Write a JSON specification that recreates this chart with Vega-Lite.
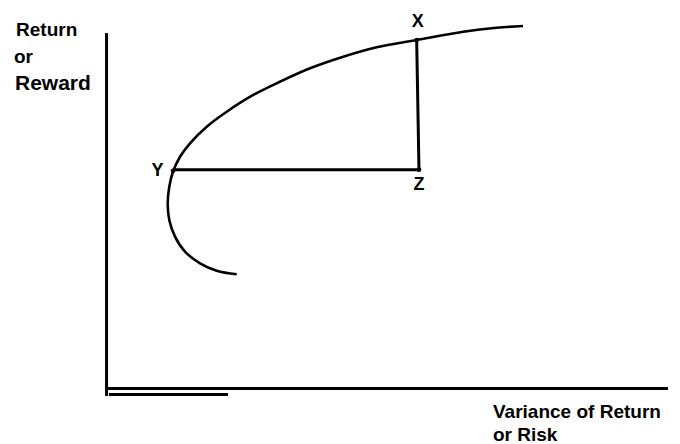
{
  "$schema": "https://vega.github.io/schema/vega-lite/v6.json",
  "width": 680,
  "height": 444,
  "autosize": "none",
  "padding": 0,
  "background": "white",
  "config": {"view": {"stroke": null}},
  "datasets": {
    "frontier": [
      {"order": 1, "risk": 23.26, "ret": 32.03},
      {"order": 2, "risk": 19.70, "ret": 33.04},
      {"order": 3, "risk": 16.73, "ret": 35.13},
      {"order": 4, "risk": 14.06, "ret": 38.39},
      {"order": 5, "risk": 12.28, "ret": 42.62},
      {"order": 6, "risk": 11.26, "ret": 47.32},
      {"order": 7, "risk": 10.98, "ret": 52.03},
      {"order": 8, "risk": 11.26, "ret": 56.70},
      {"order": 9, "risk": 11.92, "ret": 60.93},
      {"order": 10, "risk": 13.17, "ret": 65.15},
      {"order": 11, "risk": 14.95, "ret": 68.93},
      {"order": 12, "risk": 17.92, "ret": 73.61},
      {"order": 13, "risk": 21.48, "ret": 77.83},
      {"order": 14, "risk": 26.21, "ret": 82.54},
      {"order": 15, "risk": 30.96, "ret": 86.28},
      {"order": 16, "risk": 36.30, "ret": 90.06},
      {"order": 17, "risk": 42.22, "ret": 93.32},
      {"order": 18, "risk": 48.17, "ret": 95.97},
      {"order": 19, "risk": 55.28, "ret": 98.03},
      {"order": 20, "risk": 63.58, "ret": 100.37},
      {"order": 21, "risk": 69.52, "ret": 101.49},
      {"order": 22, "risk": 74.20, "ret": 101.97}
    ],
    "segments": [
      {"name": "return axis", "x1": 0.1, "y1": 100.0, "x2": 0.1, "y2": -2.25},
      {"name": "risk axis", "x1": 0.0, "y1": -0.14, "x2": 100.0, "y2": -0.14},
      {"name": "underline", "x1": 0.53, "y1": -1.83, "x2": 21.71, "y2": -1.83},
      {"name": "X-Z", "x1": 55.28, "y1": 98.03, "x2": 55.69, "y2": 61.5},
      {"name": "Y-Z", "x1": 11.92, "y1": 61.5, "x2": 55.69, "y2": 61.5}
    ],
    "points": [
      {"label": "X", "risk": 55.28, "ret": 98.03, "lx": 55.48, "ly": 101.77},
      {"label": "Y", "risk": 11.92, "ret": 61.2, "lx": 9.16, "ly": 59.72},
      {"label": "Z", "risk": 55.69, "ret": 61.5, "lx": 55.69, "ly": 55.77}
    ],
    "titles": [
      {"text": "Return", "tx": -16.01, "ty": 99.15, "kind": "small"},
      {"text": "or", "tx": -16.37, "ty": 91.55, "kind": "small"},
      {"text": "Reward", "tx": -16.19, "ty": 83.94, "kind": "big"},
      {"text": "Variance of Return", "tx": 68.86, "ty": -8.45, "kind": "small"},
      {"text": "or Risk", "tx": 68.86, "ty": -14.93, "kind": "small"}
    ]
  },
  "layer": [
    {
      "data": {"name": "segments"},
      "mark": {"type": "rule", "color": "black", "strokeWidth": 3},
      "encoding": {
        "x": {"field": "x1", "type": "quantitative", "scale": {"domain": [-18.861, 102.135], "nice": false, "zero": false}, "axis": null},
        "y": {"field": "y1", "type": "quantitative", "scale": {"domain": [-15.775, 109.296], "nice": false, "zero": false}, "axis": null},
        "x2": {"field": "x2"},
        "y2": {"field": "y2"}
      }
    },
    {
      "data": {"name": "frontier"},
      "mark": {"type": "line", "color": "black", "strokeWidth": 2.6, "interpolate": "catmull-rom"},
      "encoding": {
        "x": {"field": "risk", "type": "quantitative"},
        "y": {"field": "ret", "type": "quantitative"},
        "order": {"field": "order", "type": "quantitative"}
      }
    },
    {
      "data": {"name": "points"},
      "mark": {"type": "circle", "color": "black", "size": 22, "opacity": 1},
      "encoding": {
        "x": {"field": "risk", "type": "quantitative"},
        "y": {"field": "ret", "type": "quantitative"}
      }
    },
    {
      "data": {"name": "points"},
      "mark": {"type": "text", "font": "Liberation Sans", "fontWeight": "bold", "fontSize": 18, "align": "center", "baseline": "alphabetic", "color": "black"},
      "encoding": {
        "x": {"field": "lx", "type": "quantitative"},
        "y": {"field": "ly", "type": "quantitative"},
        "text": {"field": "label"}
      }
    },
    {
      "data": {"name": "titles"},
      "transform": [{"filter": "datum.kind === 'small'"}],
      "mark": {"type": "text", "font": "Liberation Sans", "fontWeight": "bold", "fontSize": 19, "align": "left", "baseline": "alphabetic", "color": "black"},
      "encoding": {
        "x": {"field": "tx", "type": "quantitative"},
        "y": {"field": "ty", "type": "quantitative"},
        "text": {"field": "text"}
      }
    },
    {
      "data": {"name": "titles"},
      "transform": [{"filter": "datum.kind === 'big'"}],
      "mark": {"type": "text", "font": "Liberation Sans", "fontWeight": "bold", "fontSize": 21, "align": "left", "baseline": "alphabetic", "color": "black"},
      "encoding": {
        "x": {"field": "tx", "type": "quantitative"},
        "y": {"field": "ty", "type": "quantitative"},
        "text": {"field": "text"}
      }
    }
  ]
}
